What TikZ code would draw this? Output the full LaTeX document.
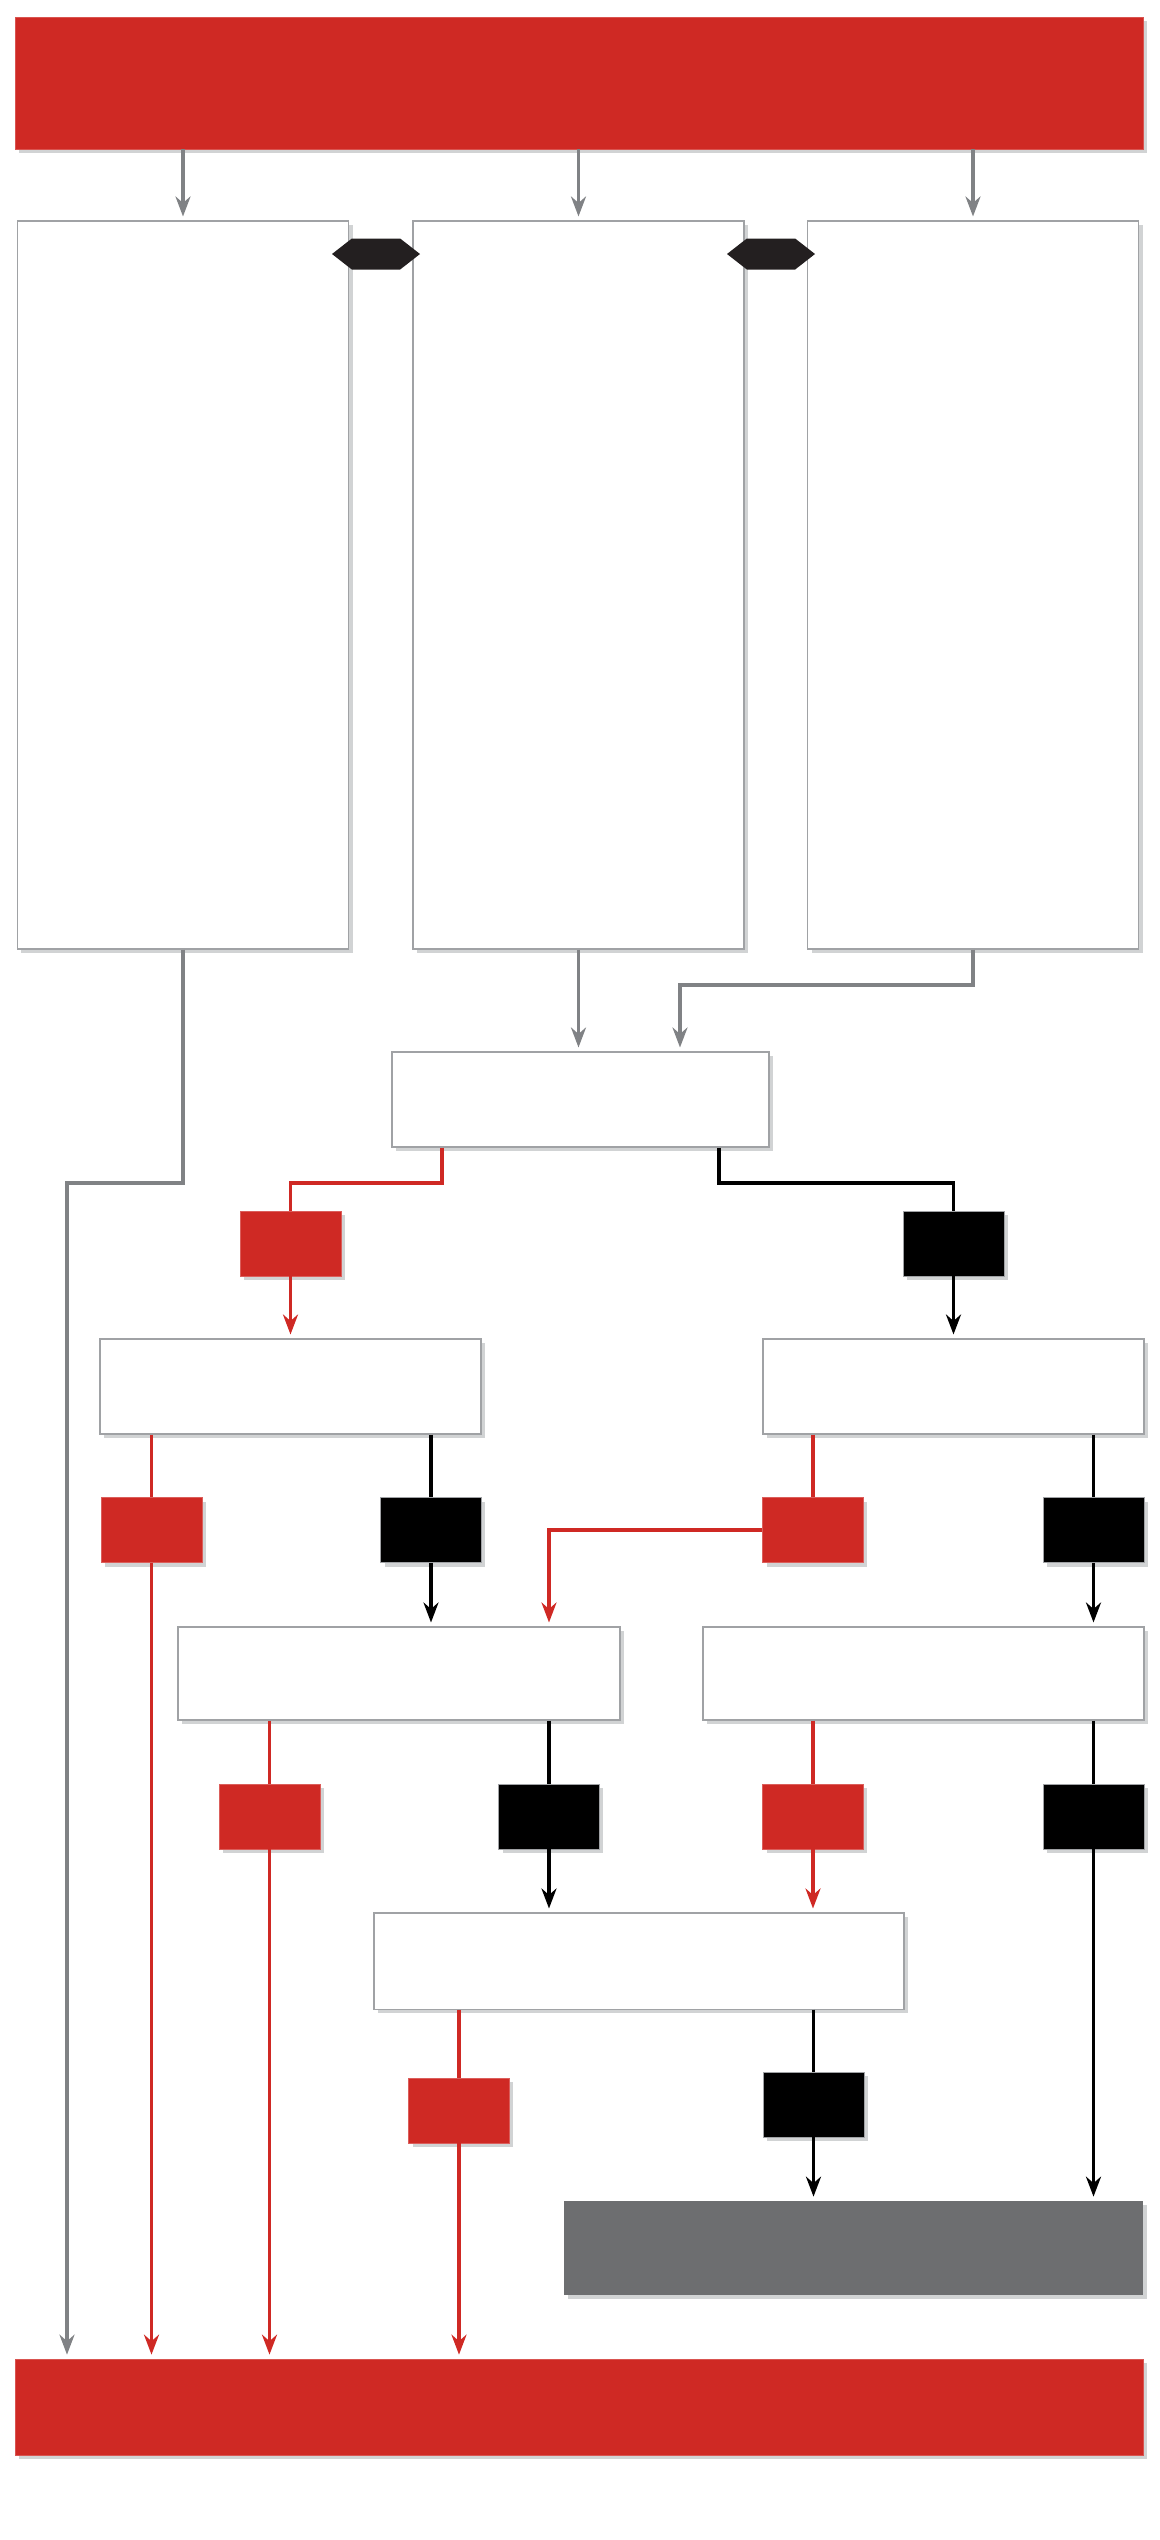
\documentclass[tikz,border=0pt]{standalone}
\usetikzlibrary{arrows.meta,positioning,shadows,shapes.symbols}
\tikzset{>={Stealth[length=4mm,width=3mm,inset=1.3mm]}}
\definecolor{ccred}{RGB}{207,41,36}
\definecolor{linegray}{RGB}{128,130,133}
\definecolor{boxgray}{RGB}{160,162,165}
\definecolor{shadegray}{RGB}{209,211,212}
\definecolor{endgray}{RGB}{109,110,112}
\definecolor{hexblack}{RGB}{35,31,32}
\tikzset{
  castshadow/.style={drop shadow={shadow xshift=0.08cm,shadow yshift=-0.08cm,fill=shadegray,opacity=1}},
  card/.style={castshadow,draw=boxgray,fill=white,line width=0.6pt,inner sep=0pt},
  bar/.style={castshadow,fill=ccred,draw=ccred!80!white,line width=0.4pt,inner sep=0pt},
  yesbox/.style={castshadow,fill=ccred,draw=ccred!75!white,line width=0.4pt,inner sep=0pt,minimum width=2.02cm,minimum height=1.3cm},
  nobox/.style={castshadow,fill=black,draw=boxgray,line width=0.4pt,inner sep=0pt,minimum width=2.02cm,minimum height=1.3cm},
  hexnode/.style={signal,signal to=west and east,signal pointer angle=76,fill=hexblack,inner sep=0pt},
  graywire/.style={draw=linegray,line width=2.2pt},
  redwire/.style={draw=ccred,line width=2.2pt},
  blackwire/.style={draw=black,line width=2.1pt},
  tip/.style={->,shorten >=0.08cm},
}

\begin{document}
\begin{tikzpicture}[x=0.02cm,y=-0.02cm]
  \def\px{0.02cm} % one pixel of the layout
  \useasboundingbox (0,0) rectangle (1160,2540);
  % bars and columns
  \node[bar,minimum width=1128*\px,minimum height=132*\px] (top) at (579,83) {};
  \node[card,minimum width=331*\px,minimum height=728*\px] (colA) at (183,585) {};
  \node[card,minimum width=331*\px,minimum height=728*\px] (colB) at (578.5,585) {};
  \node[card,minimum width=331*\px,minimum height=728*\px] (colC) at (973,585) {};
  \node[hexnode,minimum width=88*\px,minimum height=31*\px] (hexAB) at (376,254) {};
  \node[hexnode,minimum width=88*\px,minimum height=31*\px] (hexBC) at (771,254) {};
  %
  \node[card,minimum width=377*\px,minimum height=95*\px] (merge) at (580.5,1099.5) {};
  \node[yesbox] (yes1) at (290.5,1243.5) {};
  \node[nobox] (no1) at (953.5,1243.5) {};
  \node[card,minimum width=381*\px,minimum height=95*\px] (chkL) at (290.5,1386.5) {};
  \node[card,minimum width=381*\px,minimum height=95*\px] (chkR) at (953.5,1386.5) {};
  \node[yesbox] (yesL) at (151.5,1530) {};
  \node[nobox] (noL) at (431,1530) {};
  \node[yesbox] (yesR) at (813,1530) {};
  \node[nobox] (noR) at (1093.5,1530) {};
  \node[card,minimum width=442*\px,minimum height=93*\px] (subL) at (399,1673.5) {};
  \node[card,minimum width=441*\px,minimum height=93*\px] (subR) at (923.5,1673.5) {};
  \node[yesbox] (yesSL) at (269.5,1816.5) {};
  \node[nobox] (noSL) at (549,1816.5) {};
  \node[yesbox] (yesSR) at (813,1816.5) {};
  \node[nobox] (noSR) at (1093.5,1816.5) {};
  \node[card,minimum width=530*\px,minimum height=96*\px] (final) at (639,1961) {};
  \node[yesbox] (yesF) at (459,2110.5) {};
  \node[nobox] (noF) at (813.5,2104.5) {};
  \node[castshadow,fill=endgray,inner sep=0pt,minimum width=579*\px,minimum height=94*\px] (stop) at (853.5,2248) {};
  \node[bar,minimum width=1128*\px,minimum height=96*\px] (bottom) at (579,2407) {};
  %
  \draw[graywire,tip] (top.south -| colA) -- (colA.north);
  \draw[graywire,tip] (top.south -| colB) -- (colB.north);
  \draw[graywire,tip] (top.south -| colC) -- (colC.north);
  \coordinate (cbend) at (680,985);
  \coordinate (abend) at (67,1183);
  \draw[graywire,tip] (colB.south) -- (merge.north -| colB.south);
  \draw[graywire,tip] (colC.south) |- (cbend) -- (merge.north -| cbend);
  \draw[graywire,tip] (colA.south) |- (abend) -- (bottom.north -| abend);
  %
  \coordinate (mred) at (442,1183);
  \coordinate (mblack) at (719,1183);
  \draw[redwire] (merge.south -| mred) -- (mred) -| (yes1.north);
  \draw[blackwire] (merge.south -| mblack) -- (mblack) -| (no1.north);
  \draw[redwire,tip] (yes1.south) -- (chkL.north -| yes1.south);
  \draw[blackwire,tip] (no1.south) -- (chkR.north -| no1.south);
  %
  \draw[redwire] (chkL.south -| yesL) -- (yesL.north);
  \draw[redwire,tip] (yesL.south) -- (bottom.north -| yesL);
  \draw[blackwire] (chkL.south -| noL) -- (noL.north);
  \draw[blackwire,tip] (noL.south) -- (subL.north -| noL);
  \draw[redwire] (chkR.south -| yesR) -- (yesR.north);
  \draw[redwire,tip] (yesR.west) -| (subL.north -| noSL);
  \draw[blackwire] (chkR.south -| noR) -- (noR.north);
  \draw[blackwire,tip] (noR.south) -- (subR.north -| noR);
  %
  \draw[redwire] (subL.south -| yesSL) -- (yesSL.north);
  \draw[redwire,tip] (yesSL.south) -- (bottom.north -| yesSL);
  \draw[blackwire] (subL.south -| noSL) -- (noSL.north);
  \draw[blackwire,tip] (noSL.south) -- (final.north -| noSL);
  \draw[redwire] (subR.south -| yesSR) -- (yesSR.north);
  \draw[redwire,tip] (yesSR.south) -- (final.north -| yesSR);
  \draw[blackwire] (subR.south -| noSR) -- (noSR.north);
  \draw[blackwire,tip] (noSR.south) -- (stop.north -| noSR);
  %
  \draw[redwire] (final.south -| yesF) -- (yesF.north);
  \draw[redwire,tip] (yesF.south) -- (bottom.north -| yesF);
  \draw[blackwire] (final.south -| noF) -- (noF.north);
  \draw[blackwire,tip] (noF.south) -- (stop.north -| noF);
\end{tikzpicture}
\end{document}
